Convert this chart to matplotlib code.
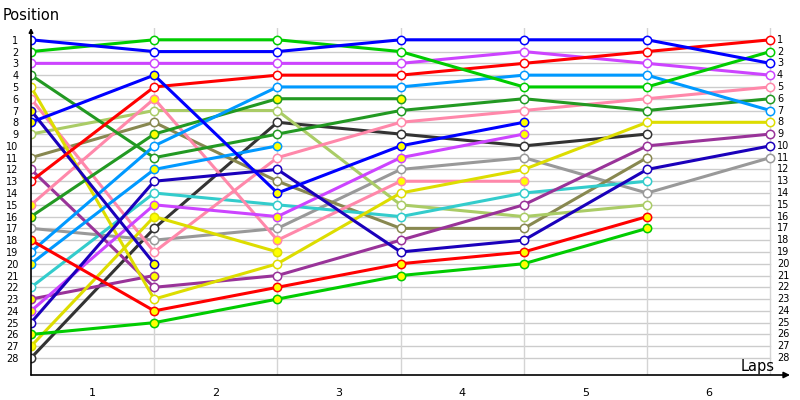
import matplotlib.pyplot as plt

# lap chart: position of each car at the end of each lap (lap 0 = grid)
laps = [0, 1, 2, 3, 4, 5, 6]
lap_labels = ['1', '2', '3', '4', '5', '6']
positions = list(range(1, 29))

# first car of each team (white markers)
blue_w = [1, 2, 2, 1, 1, 1, 3]
green_w = [2, 1, 1, 2, 5, 5, 2]
violet_w = [3, 3, 3, 3, 2, 3, 4]
dkgreen_w = [4, 11, 9, 7, 6, 7, 6]
yellow_w = [5, 23, 20, 14, 12, 8, 8]
pink_w = [6, 19, 11, 8, 7, 6, 5]
ltgreen_w = [9, 7, 7, 15, 16, 15]
olive_w = [11, 8, 13, 17, 17, 11]
purple_w = [12, 22, 21, 18, 15, 10, 9]
red_w = [13, 5, 4, 4, 3, 2, 1]
gray_w = [17, 18, 17, 12, 11, 14, 11]
ltblue_w = [19, 10, 5, 5, 4, 4, 7]
cyan_w = [22, 14, 15, 16, 14, 13]
navy_w = [25, 13, 12, 19, 18, 12, 10]
dkgray_w = [28, 17, 8, 9, 10, 9]

# second car of each team (yellow markers)
navy_y = [7, 20]
blue_y = [8, 4, 14, 10, 8]
pink_y = [15, 6, 18, 13, 13]
dkgreen_y = [16, 9, 6, 6]
red_y = [18, 24, 22, 20, 19, 16]
ltblue_y = [20, 12, 10]
purple_y = [23, 21]
violet_y = [24, 15, 16, 11, 9]
green_y = [26, 25, 23, 21, 20, 17]
yellow_y = [27, 16, 19]

cars = [
    (dkgray_w, '#333333', 'white'),
    (gray_w, '#999999', 'white'),
    (olive_w, '#888850', 'white'),
    (ltgreen_w, '#aacc66', 'white'),
    (cyan_w, '#33cccc', 'white'),
    (purple_y, '#993399', '#ffff00'),
    (purple_w, '#993399', 'white'),
    (pink_y, '#ff88aa', '#ffff00'),
    (pink_w, '#ff88aa', 'white'),
    (yellow_y, '#dddd00', '#ffff00'),
    (yellow_w, '#dddd00', 'white'),
    (dkgreen_y, '#229922', '#ffff00'),
    (dkgreen_w, '#229922', 'white'),
    (ltblue_y, '#0099ff', '#ffff00'),
    (ltblue_w, '#0099ff', 'white'),
    (violet_y, '#cc44ff', '#ffff00'),
    (violet_w, '#cc44ff', 'white'),
    (navy_y, '#1a00bb', '#ffff00'),
    (navy_w, '#1a00bb', 'white'),
    (red_y, '#ff0000', '#ffff00'),
    (red_w, '#ff0000', 'white'),
    (green_y, '#00cc00', '#ffff00'),
    (green_w, '#00cc00', 'white'),
    (blue_y, '#0000ff', '#ffff00'),
    (blue_w, '#0000ff', 'white'),
]

fig = plt.figure(figsize=(8, 4), dpi=100)
ax = fig.add_axes([31 / 800, 25 / 400, 759 / 800, 347 / 400])
ax.set_xlim(0, 6.16)
ax.set_ylim(29.44, 0)

# grid
for p in positions:
    ax.plot([laps[0], laps[-1]], [p, p], color='#cccccc', lw=1, zorder=1)
for l in laps[1:]:
    ax.axvline(l, color='#d4d4d4', lw=1, zorder=1)

for pos, col, fill in cars:
    ax.plot(laps[:len(pos)], pos, color=col, lw=2.2, zorder=2, solid_capstyle='round')
for pos, col, fill in cars:
    ax.plot(laps[:len(pos)], pos, ls='none', marker='o', ms=6,
            mfc=fill, mec=col, mew=1.1, zorder=3)

for s in ax.spines.values():
    s.set_visible(False)

# axes with arrows
ax.annotate('', xy=(1, 0), xycoords='axes fraction', xytext=(0, 0),
            arrowprops=dict(arrowstyle='-|>', color='black', lw=1.2,
                            mutation_scale=9, shrinkA=0, shrinkB=0))
ax.annotate('', xy=(0, 1), xycoords='axes fraction', xytext=(0, 0),
            arrowprops=dict(arrowstyle='-|>', color='black', lw=1.2,
                            mutation_scale=6, shrinkA=0, shrinkB=0))

ax.set_yticks(positions)
ax.set_yticklabels([str(p) for p in positions], fontsize=7)
ax.set_xticks([l + 0.5 for l in laps[:-1]])
ax.set_xticklabels(lap_labels, fontsize=8)
ax.tick_params(axis='y', length=0, pad=9)
ax.tick_params(axis='x', length=0, pad=9)

for p in positions:
    ax.text(6.055, p, str(p), fontsize=7, va='center', ha='left')

fig.text(3 / 800, 1 - 15 / 400, 'Position', fontsize=10.5, va='center', ha='left')
fig.text(775 / 800, 1 - 366 / 400, 'Laps', fontsize=10.5, va='center', ha='right')

fig.savefig('out.png', dpi=100)
